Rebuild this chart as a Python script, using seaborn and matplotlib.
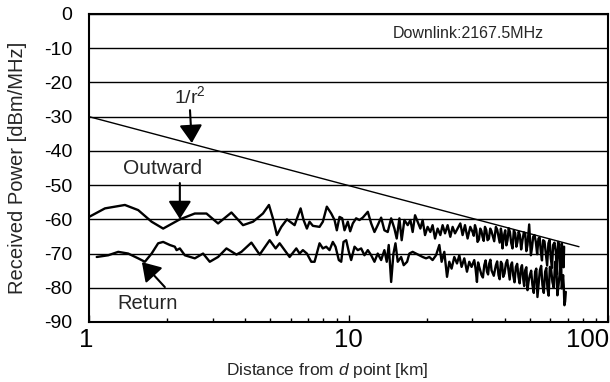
import matplotlib
matplotlib.use("Agg")
import matplotlib.pyplot as plt
import matplotlib.ticker as mticker
import matplotlib.transforms as mtransforms
import numpy as np
import pandas as pd
import seaborn as sns

# Measured received power along the route (distance in km, power in dBm/MHz)
outward_km = [1.00, 1.152, 1.375, 1.547, 1.743, 1.931, 2.239, 2.557, 2.836, 3.143,
              3.539, 3.922, 4.285, 4.681, 4.937, 5.114, 5.299, 5.511, 5.790, 6.199,
              6.538, 6.713, 6.913, 7.079, 7.29, 7.734, 7.964, 8.250, 8.58, 8.836,
              9.016, 9.234, 9.458, 9.652, 9.938, 10.15, 10.39, 10.70, 11.02, 11.35,
              11.87, 12.23, 12.59, 12.96, 13.36, 13.75, 14.16, 14.60, 15.03, 15.34,
              15.71, 16.03, 16.42, 16.91, 17.32, 17.67, 18.05, 18.47, 18.92, 19.31,
              19.72, 20.18, 20.67, 21.09, 21.55, 22.05, 22.59, 23.05, 23.55, 24.10,
              24.68, 25.19, 25.73, 26.33, 26.97, 27.52, 28.11, 28.77, 29.46, 30.07,
              30.71, 31.43, 32.19, 32.85, 33.56, 34.34, 35.17, 35.89, 36.98, 37.85,
              38.66, 39.21, 40.16, 41.0, 41.88, 42.85, 43.89, 44.79, 45.75, 46.82,
              47.96, 48.94, 49.69, 50.44, 51.47, 52.72, 53.95, 55.11, 56.23, 57.60,
              58.94, 60.21, 61.45, 62.93, 64.23, 65.38, 66.37, 67.14, 67.75]
outward_dbm = [-59.3, -56.8, -55.8, -57.3, -60.7, -62.7, -60.0, -58.3, -58.3, -61.2,
               -58.0, -61.7, -60.7, -58.3, -55.8, -59.7, -64.6, -62.2, -60.0, -61.7,
               -56.8, -60.2, -62.7, -60.7, -61.9, -62.2, -60.7, -56.3, -58.3, -60.2,
               -63.2, -59.3, -59.7, -63.2, -60.7, -63.5, -61.2, -59.7, -60.2, -59.5,
               -57.8, -61.2, -63.7, -61.7, -59.5, -63.2, -63.7, -59.7, -62.7, -65.6,
               -59.7, -66.1, -60.2, -61.7, -60.2, -63.7, -58.8, -60.7, -62.7, -60.2,
               -64.6, -62.2, -63.7, -61.7, -65.6, -62.7, -64.6, -61.7, -64.1, -61.7,
               -65.1, -62.2, -64.1, -62.7, -61.2, -64.6, -61.7, -65.6, -62.2, -63.7,
               -61.7, -66.6, -62.7, -65.1, -62.2, -66.1, -62.7, -64.6, -62.2, -65.1,
               -62.7, -68.5, -63.2, -66.1, -63.7, -68.5, -64.1, -66.6, -64.6, -66.1,
               -64.1, -67.5, -61.5, -70.5, -65.1, -66.6, -65.6, -69.5, -66.1, -70.0,
               -67.0, -71.4, -67.5, -69.5, -66.6, -72.4, -67.0, -71.0, -68.0]
# denser samples on the far part of the outward run
outward_far_km = [30.39, 31.07, 31.81, 32.52, 33.2, 33.95, 34.75, 35.53, 36.43, 37.4,
                  38.25, 38.93, 39.68, 40.58, 41.44, 42.36, 43.37, 44.34, 45.27, 46.28,
                  47.39, 48.45, 49.31, 50.06, 50.95, 52.09, 53.33, 54.53, 55.67, 56.91,
                  58.27, 59.57, 60.83, 62.19, 63.58, 64.8, 65.87, 66.75, 67.45]
outward_far_dbm = [-64.8, -63.0, -65.9, -63.4, -66.3, -63.1, -65.7, -63.4, -66.4, -63.0,
                   -66.8, -64.1, -65.0, -67.6, -62.6, -66.9, -63.2, -68.0, -63.6, -68.8,
                   -63.8, -69.3, -64.6, -66.0, -68.3, -64.6, -70.2, -65.3, -72.0, -66.4,
                   -73.5, -66.0, -74.2, -66.8, -76.0, -67.4, -77.5, -68.6, -74.0]

return_km = [1.071, 1.186, 1.296, 1.416, 1.547, 1.642, 1.743, 1.847, 1.931, 2.049,
             2.142, 2.175, 2.239, 2.34, 2.557, 2.752, 2.920, 3.143, 3.386, 3.700,
             3.867, 4.225, 4.546, 4.968, 5.239, 5.428, 5.673, 5.931, 6.293, 6.48,
             6.672, 6.913, 7.187, 7.400, 7.734, 7.964, 8.206, 8.45, 8.702, 8.913,
             9.176, 9.374, 9.568, 9.799, 10.03, 10.24, 10.55, 10.86, 11.19, 11.52,
             11.87, 12.23, 12.59, 12.96, 13.36, 13.75, 14.04, 14.29, 14.60, 14.90,
             15.17, 15.48, 15.95, 16.32, 16.82, 17.16, 17.67, 18.21, 18.75, 19.31,
             19.90, 20.49, 21.09, 21.74, 22.39, 22.85, 23.40, 23.97, 24.46, 24.96,
             25.57, 26.19, 26.73, 27.28, 27.94, 28.61, 29.20, 29.80, 30.52, 31.26,
             31.90, 32.56, 33.36, 34.17, 34.86, 35.58, 36.98, 37.85, 38.66, 39.46,
             40.41, 41.35, 42.25, 43.11, 44.16, 45.19, 46.15, 47.1, 47.96, 48.94,
             49.99, 51.15, 52.39, 53.47, 54.63, 55.9, 57.25, 58.43, 59.69, 61.07,
             62.55, 63.83, 65.21, 66.37, 67.14, 67.92, 68.77]
return_dbm = [-71.0, -70.5, -69.5, -70.0, -71.4, -72.4, -70.0, -67.0, -66.6, -67.5,
              -68.0, -69.0, -68.5, -70.5, -71.4, -70.0, -72.4, -71.0, -68.5, -70.3,
              -69.5, -66.8, -70.3, -66.1, -68.5, -67.0, -69.0, -71.0, -68.5, -70.0,
              -69.0, -70.0, -72.4, -72.4, -67.0, -68.5, -68.0, -69.0, -66.6, -68.0,
              -71.9, -72.4, -66.6, -66.1, -69.5, -71.9, -68.0, -69.0, -68.5, -70.5,
              -69.0, -70.5, -72.4, -70.0, -71.9, -69.0, -72.4, -67.5, -78.3, -70.0,
              -67.0, -72.4, -71.0, -73.4, -72.4, -70.0, -69.5, -70.0, -70.5, -71.0,
              -71.4, -71.0, -71.9, -70.5, -67.5, -72.4, -69.5, -76.8, -72.4, -74.4,
              -71.0, -72.9, -70.5, -73.9, -71.4, -75.3, -72.4, -73.9, -71.9, -78.3,
              -73.9, -76.3, -73.4, -75.3, -72.9, -74.9, -73.4, -76.3, -72.4, -76.8,
              -72.9, -74.9, -73.4, -76.3, -73.9, -76.8, -74.4, -77.3, -74.9, -80.7,
              -76.3, -79.2, -75.3, -82.7, -74.9, -79.2, -75.3, -80.2, -73.9, -78.3,
              -72.4, -82.2, -75.3, -80.2, -76.3, -85.1, -81.2]
# denser samples on the far part of the return run
return_far_km = [30.89, 31.58, 32.96, 33.76, 34.51, 35.22, 36.3, 37.4, 38.25, 39.06,
                 39.93, 40.88, 41.8, 42.68, 43.63, 44.67, 45.67, 46.62, 47.53, 48.45,
                 49.46, 50.57, 51.77, 52.93, 54.05, 55.26, 56.57, 57.84, 59.06, 60.38,
                 61.81, 63.19, 64.52, 65.79, 66.75, 67.53, 68.35]
return_far_dbm = [-74.5, -72.6, -77.0, -72.0, -76.1, -71.8, -76.5, -72.3, -77.5, -73.0,
                  -75.8, -71.9, -77.6, -72.6, -78.4, -73.0, -78.7, -73.4, -79.5, -74.0,
                  -78.0, -75.0, -81.5, -74.4, -78.8, -73.6, -81.5, -74.2, -82.3, -74.6,
                  -80.0, -73.6, -79.0, -73.0, -78.2, -79.5, -84.0]

# Free-space reference line (1/r^2), end points
r2_km = [1.0, 77.3]
r2_dbm = [-30.0, -68.0]

y_ticks = [0, -10, -20, -30, -40, -50, -60, -70, -80, -90]
x_ticks = [1, 10, 100]
x_tick_labels = ["1", "10", "100"]

sns.set_style("white")
plt.rcParams["font.family"] = ["Liberation Sans", "DejaVu Sans"]
plt.rcParams["mathtext.fontset"] = "custom"
plt.rcParams["mathtext.rm"] = "Liberation Sans"
plt.rcParams["mathtext.it"] = "Liberation Sans:italic"

fig = plt.figure(figsize=(6.10, 3.82), dpi=100)
ax = fig.add_axes([89 / 610, 1 - 322 / 382, 519 / 610, 308 / 382])


def run_frame(km, dbm, far_km, far_dbm):
    d = pd.DataFrame({"km": km + far_km, "dbm": dbm + far_dbm})
    return d.sort_values("km").reset_index(drop=True)


df_out = run_frame(outward_km, outward_dbm, outward_far_km, outward_far_dbm)
df_ret = run_frame(return_km, return_dbm, return_far_km, return_far_dbm)
df_r2 = pd.DataFrame({"km": r2_km, "dbm": r2_dbm})

sns.lineplot(data=df_r2, x="km", y="dbm", ax=ax, color="black", lw=1.0,
             estimator=None, sort=False)
for d in (df_out, df_ret):
    sns.lineplot(data=d, x="km", y="dbm", ax=ax, color="black", lw=1.7,
                 estimator=None, sort=False, solid_joinstyle="round",
                 solid_capstyle="round")

ax.set_xscale("log")
ax.set_xlim(1, 100)
ax.set_ylim(-90, 0)

ax.set_yticks(y_ticks)
ax.set_yticklabels([str(v) for v in y_ticks])
ax.yaxis.grid(True, color="black", lw=1.0)
ax.xaxis.grid(False)
ax.set_axisbelow(True)

ax.xaxis.set_major_locator(mticker.FixedLocator(x_ticks))
ax.xaxis.set_major_formatter(mticker.FixedFormatter(x_tick_labels))
ax.xaxis.set_minor_locator(mticker.LogLocator(base=10, subs=np.arange(2, 10)))
ax.xaxis.set_minor_formatter(mticker.NullFormatter())
ax.tick_params(axis="x", which="major", direction="in", length=5, width=1,
               labelsize=18.5, pad=4, bottom=True, colors="black")
ax.tick_params(axis="x", which="minor", direction="in", length=3, width=1,
               bottom=True, colors="black")
ax.tick_params(axis="y", which="both", length=0, labelsize=14, pad=12,
               colors="black")

# keep the outer x labels inside the figure
lbls = ax.get_xticklabels()
lbls[-1].set_horizontalalignment("right")
lbls[-1].set_transform(lbls[-1].get_transform() +
                       mtransforms.ScaledTranslation(1 / 100, 0, fig.dpi_scale_trans))
lbls[0].set_transform(lbls[0].get_transform() +
                      mtransforms.ScaledTranslation(-3 / 100, 0, fig.dpi_scale_trans))

for s in ax.spines.values():
    s.set_color("black")
    s.set_linewidth(1.5)

ax.set_xlabel("Distance from $d$ point [km]", fontsize=12.5, va="center")
ax.xaxis.set_label_coords((327 - 89) / 519, -(371 - 322) / 308)
ax.set_ylabel("Received Power [dBm/MHz]", fontsize=14.5, va="center")
ax.yaxis.set_label_coords((17.5 - 89) / 519, 0.5)

ax.text(0.73, 0.938, "Downlink:2167.5MHz", transform=ax.transAxes,
        ha="center", va="center", fontsize=11.5)

arrow = dict(arrowstyle="-|>,head_length=1.1,head_width=0.7", mutation_scale=10,
             color="black", lw=1.5, shrinkA=0, shrinkB=0)
ax.annotate("", xy=(2.49, -37.7), xytext=(2.45, -28.1), arrowprops=arrow)
ax.text(2.45, -24.0, "1/r$^2$", ha="center", va="center", fontsize=14)

ax.annotate("", xy=(2.239, -59.9), xytext=(2.239, -49.4), arrowprops=arrow)
ax.text(1.918, -45.0, "Outward", ha="center", va="center", fontsize=15)

ax.annotate("", xy=(1.599, -72.5), xytext=(1.96, -79.8), arrowprops=arrow)
ax.text(1.679, -84.5, "Return", ha="center", va="center", fontsize=14.5)

fig.savefig("out.png", dpi=100)
